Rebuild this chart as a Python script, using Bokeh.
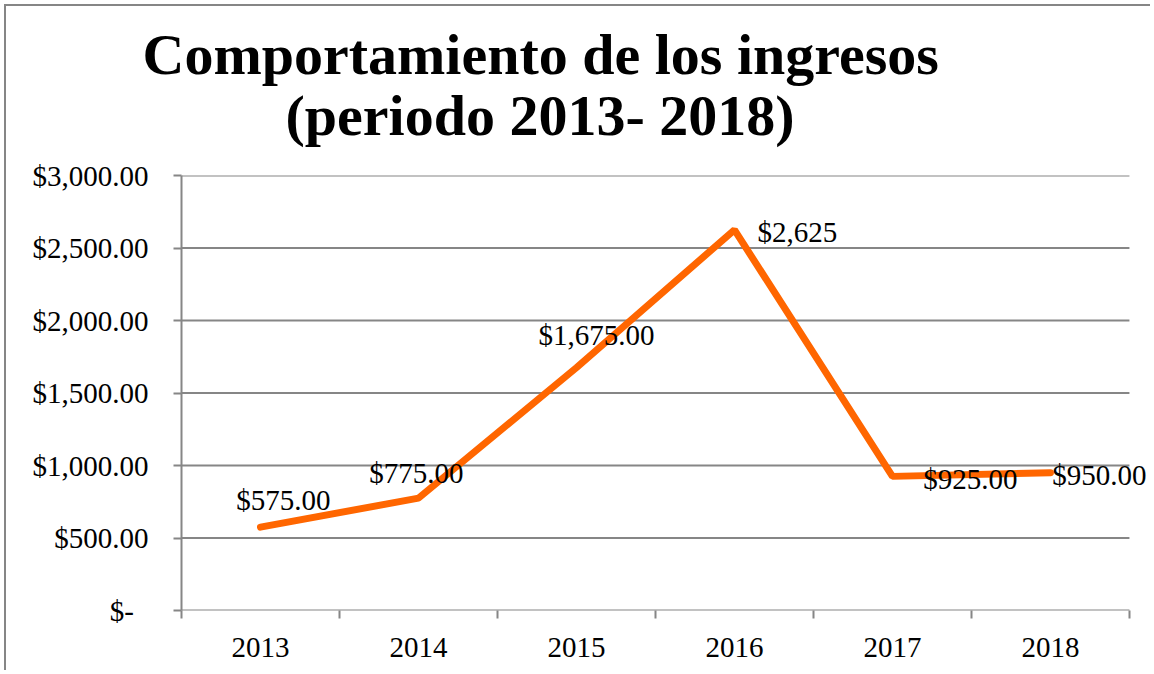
from bokeh.plotting import figure
from bokeh.models import Range1d, FixedTicker, LinearAxis, Title, LabelSet, ColumnDataSource
from bokeh.embed import file_html
from bokeh.resources import INLINE

# ---- data ----
years = ["2013", "2014", "2015", "2016", "2017", "2018"]
ingresos = [575, 775, 1675, 2625, 925, 950]
etiquetas = ["$575.00", "$775.00", "$1,675.00", "$2,625", "$925.00", "$950.00"]
y_ticks = [0, 500, 1000, 1500, 2000, 2500, 3000]
y_tick_labels = ["$-\u00a0\u00a0", "$500.00", "$1,000.00", "$1,500.00", "$2,000.00", "$2,500.00", "$3,000.00"]
title_lines = ["Comportamiento de los ingresos", "(periodo 2013- 2018)"]

# label placement (pixels, relative to each point)
label_dx = [23, -2, 20, 63, 78, 49]
label_dy = [27, 25, 33, -2, -3, -2]

FONT = "Liberation Serif"
GRAY = "#868686"
ORANGE = "#FF6600"

n = len(years)
xs = [i + 0.5 for i in range(n)]
x_end = n + 0.146  # extra room on the right so the last data label is not clipped

p = figure(width=1146, height=666, output_backend="svg", toolbar_location=None,
           x_range=Range1d(0, x_end), y_range=Range1d(0, 3000),
           x_axis_type=None,
           min_border_left=175, min_border_right=0, min_border_top=169, min_border_bottom=62)
p.outline_line_color = None
p.background_fill_color = "white"
p.border_fill_color = "white"
p.styles = {"margin-left": "4px", "margin-top": "4px",
            "border-left": "2px solid #868686", "border-top": "2px solid #868686"}

# y axis
p.yaxis.ticker = FixedTicker(ticks=y_ticks)
p.yaxis.major_label_overrides = dict(zip(y_ticks, y_tick_labels))
p.yaxis.axis_line_color = GRAY
p.yaxis.axis_line_width = 2
p.yaxis.major_tick_line_color = GRAY
p.yaxis.major_tick_line_width = 2
p.yaxis.major_tick_out = 8
p.yaxis.major_tick_in = 0
p.yaxis.minor_tick_line_color = None
p.yaxis.major_label_standoff = 25
p.yaxis.major_label_text_font = FONT
p.yaxis.major_label_text_font_size = "29px"
p.yaxis.major_label_text_color = "black"
p.ygrid.visible = False

# horizontal gridlines across the category area only
p.segment(x0=[0] * len(y_ticks), x1=[n] * len(y_ticks), y0=y_ticks, y1=y_ticks,
          line_color=GRAY, line_width=2)

# x axis: tick marks at category boundaries
ax_ticks = LinearAxis(ticker=FixedTicker(ticks=list(range(n + 1))))
ax_ticks.axis_line_color = None
ax_ticks.major_tick_line_color = GRAY
ax_ticks.major_tick_line_width = 2
ax_ticks.major_tick_out = 8
ax_ticks.major_tick_in = 0
ax_ticks.minor_tick_line_color = None
ax_ticks.major_label_text_font_size = "1px"
ax_ticks.major_label_text_alpha = 0
ax_ticks.major_label_standoff = 0
ax_ticks.major_label_overrides = {i: "" for i in range(n + 1)}

# x axis: category labels at centers
ax_lab = LinearAxis(ticker=FixedTicker(ticks=xs))
ax_lab.major_label_overrides = {x: y for x, y in zip(xs, years)}
ax_lab.axis_line_color = None
ax_lab.major_tick_line_color = None
ax_lab.minor_tick_line_color = None
ax_lab.major_label_standoff = 13
ax_lab.major_label_text_font = FONT
ax_lab.major_label_text_font_size = "29px"
ax_lab.major_label_text_color = "black"

p.add_layout(ax_ticks, "below")
p.add_layout(ax_lab, "below")

src = ColumnDataSource(dict(x=xs, y=ingresos, t=etiquetas, dx=label_dx, dy=label_dy))
p.line("x", "y", source=src, line_color=ORANGE, line_width=7, line_cap="round")

labels = LabelSet(x="x", y="y", text="t", x_offset="dx", y_offset="dy", source=src,
                  text_align="center", text_baseline="middle",
                  text_font=FONT, text_font_size="29px", text_color="black")
p.add_layout(labels)

# two-line title (first added sits closest to the plot)
p.add_layout(Title(text=title_lines[1], align="left", offset=104, standoff=56,
                   text_font=FONT, text_font_style="bold", text_font_size="58px",
                   text_color="black"), "above")
p.add_layout(Title(text=title_lines[0], align="left", offset=-39, standoff=-68,
                   text_font=FONT, text_font_style="bold", text_font_size="58px",
                   text_color="black"), "above")

open("out.html", "w").write(file_html(p, INLINE))
